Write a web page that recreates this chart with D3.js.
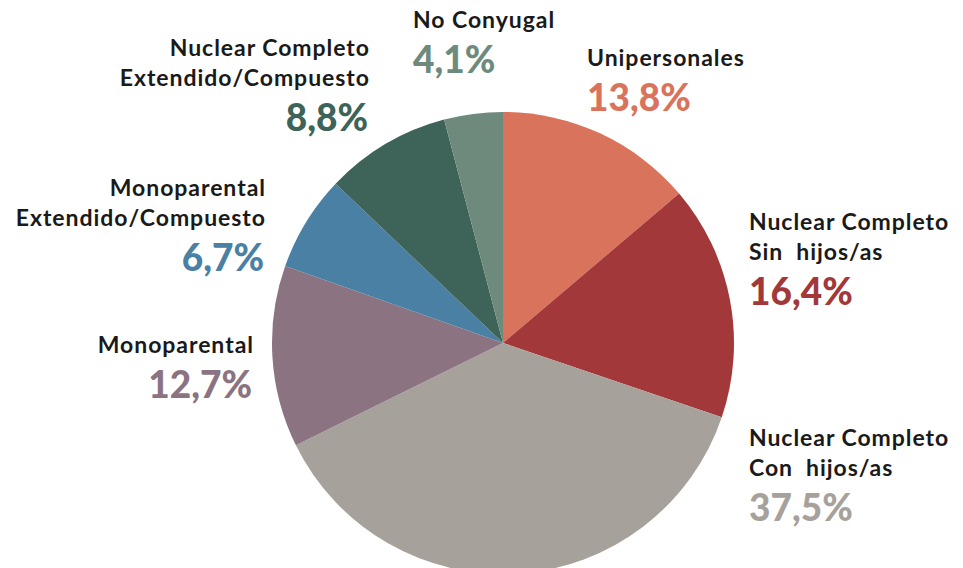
<!DOCTYPE html>
<html><head><meta charset="utf-8">
<script src="https://cdn.jsdelivr.net/npm/d3@7"></script>
<style>
html,body{margin:0;padding:0;background:#fff;}
svg{display:block;font-family:Lato,"Noto Sans",sans-serif;}
</style></head>
<body>
<svg id="chart" width="963" height="568"></svg>
<script>
const categories = ["Unipersonales","Nuclear Completo Sin hijos/as","Nuclear Completo Con hijos/as","Monoparental","Monoparental Extendido/Compuesto","Nuclear Completo Extendido/Compuesto","No Conyugal"];
const labelLines = [["Unipersonales"],["Nuclear Completo","Sin  hijos/as"],["Nuclear Completo","Con  hijos/as"],["Monoparental"],["Monoparental","Extendido/Compuesto"],["Nuclear Completo","Extendido/Compuesto"],["No Conyugal"]];
const values = [13.8,16.4,37.5,12.7,6.7,8.8,4.1];
const valueLabels = ["13,8%","16,4%","37,5%","12,7%","6,7%","8,8%","4,1%"];
const colors = ["#D9735B","#A3383A","#A6A29B","#8B7382","#4A80A3","#3E6358","#6D8A7D"];
// label anchor: [x, baseline of first line, anchor]
const labelPos = [[587,66,"start"],[749,230,"start"],[749,446,"start"],[253,353,"end"],[265,196,"end"],[369,56,"end"],[413,28,"start"]];

const svg = d3.select("#chart");
const cx = 503, cy = 343, r = 231;
const pie = d3.pie().sort(null).value(d=>d);
const arc = d3.arc().innerRadius(0).outerRadius(r);
const g = svg.append("g").attr("transform",`translate(${cx},${cy})`);
g.selectAll("path").data(pie(values)).join("path")
  .attr("d",arc).attr("fill",(d,i)=>colors[i]);

const ls = 0.95;
const lab = svg.append("g");
labelPos.forEach((p,i)=>{
  const end = p[2]==="end";
  const t = lab.append("text").attr("text-anchor",p[2]);
  labelLines[i].forEach((line,j)=>{
    t.append("tspan").attr("x",p[0]+(end?ls:0)).attr("y",p[1]+j*30)
      .attr("font-size",23).attr("font-weight",700).attr("fill","#1a1a1a")
      .attr("letter-spacing",ls)
      .style("white-space","pre").text(line);
  });
  const n = labelLines[i].length;
  lab.append("text").attr("text-anchor",p[2]).attr("x",p[0]-(end?1:0))
    .attr("y",p[1]+(n-1)*30+45)
    .attr("font-size",37).attr("font-weight",900).attr("fill",colors[i])
    .text(valueLabels[i]);
});
</script>
</body></html>
